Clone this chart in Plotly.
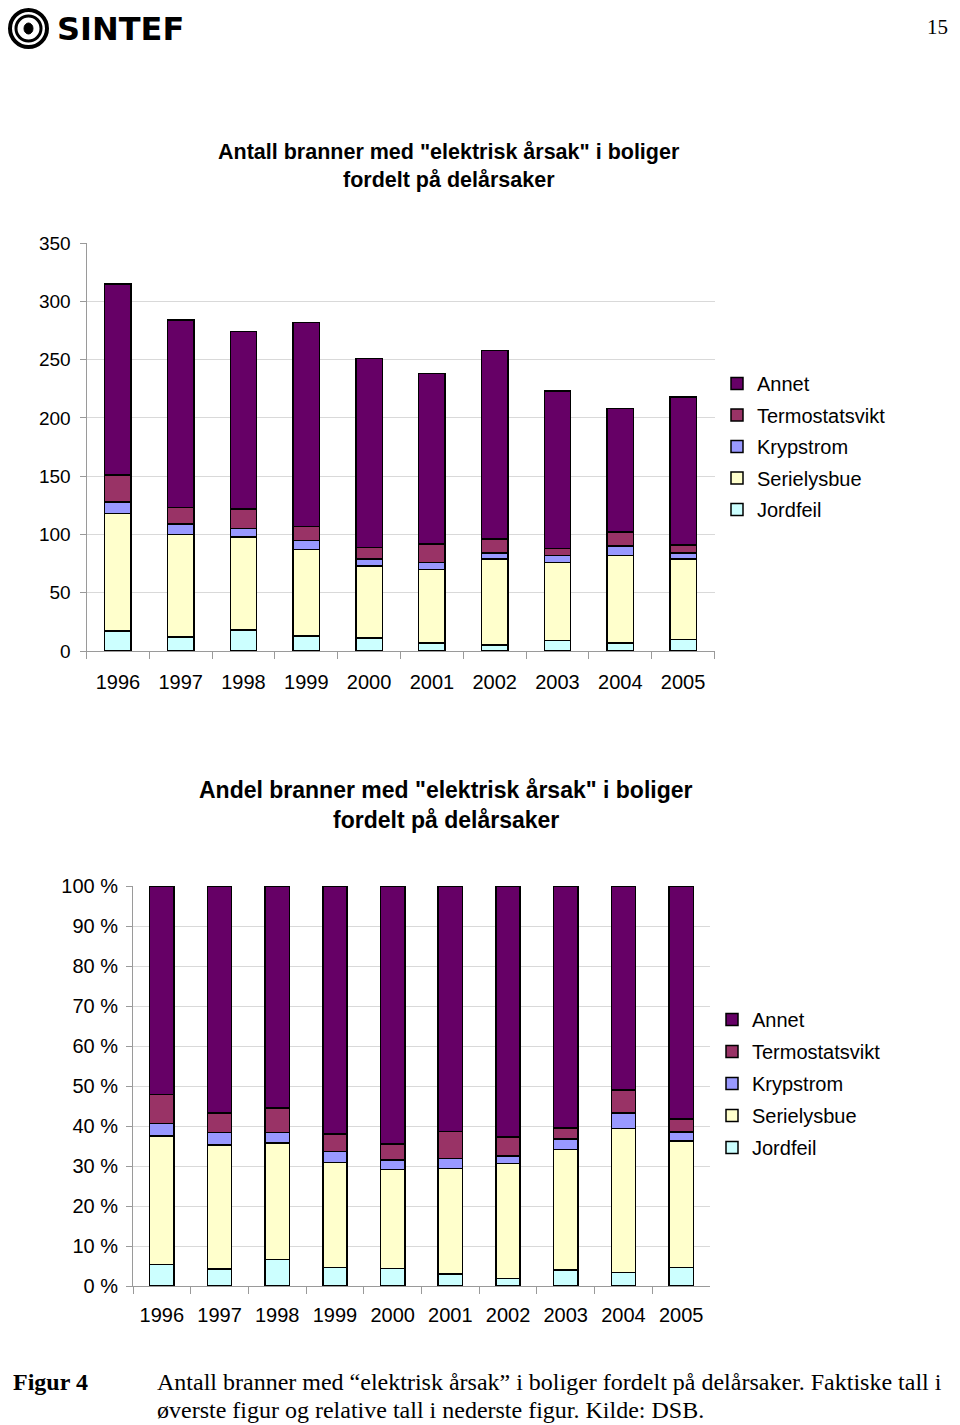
import plotly.graph_objects as go

years = ['1996', '1997', '1998', '1999', '2000', '2001', '2002', '2003', '2004', '2005']
jordfeil = [17, 12, 18, 13, 11, 7, 5, 9, 7, 10]
serielysbue = [101, 88, 80, 74, 62, 63, 74, 67, 75, 69]
krypstrom = [10, 9, 7, 8, 6, 6, 5, 6, 8, 5]
termostatsvikt = [23, 14, 17, 12, 10, 16, 12, 6, 12, 7]
annet = [164, 161, 152, 175, 162, 146, 162, 135, 106, 127]

series_names = ['Jordfeil', 'Serielysbue', 'Krypstrom', 'Termostatsvikt', 'Annet']
series_values = [jordfeil, serielysbue, krypstrom, termostatsvikt, annet]
colors = ['#CCFFFF', '#FFFFCC', '#9999FF', '#993366', '#660066']

pct_ticks = [0, 10, 20, 30, 40, 50, 60, 70, 80, 90, 100]
abs_ticks = [0, 50, 100, 150, 200, 250, 300, 350]

totals = [sum(v) for v in zip(*series_values)]

W, H = 960, 1425
OFF = 8  # page body margin
def px(x):
    return (x - OFF) / W
def py(y):
    return 1 - (y - OFF) / H

FONT = 'Liberation Sans, Arial, sans-serif'
SERIF = 'Liberation Serif, Times New Roman, serif'

n = len(series_names)
fig = go.Figure()
for i, (name, vals, col) in enumerate(zip(series_names, series_values, colors)):
    fig.add_trace(go.Bar(x=years, y=vals, name=name,
                         marker=dict(color=col, line=dict(color='black', width=1.5)),
                         xaxis='x', yaxis='y', legend='legend', legendgroup='a_' + name,
                         legendrank=n - i))
for i, (name, vals, col) in enumerate(zip(series_names, series_values, colors)):
    pct = [100 * v / t for v, t in zip(vals, totals)]
    fig.add_trace(go.Bar(x=years, y=pct, name=name,
                         marker=dict(color=col, line=dict(color='black', width=1.5)),
                         xaxis='x2', yaxis='y2', legend='legend2', legendgroup='b_' + name,
                         legendrank=n - i))

def axis_common(size):
    return dict(showline=True, linecolor='#9a9a9a', linewidth=1, tickcolor='#9a9a9a',
                tickfont=dict(family=FONT, size=size, color='black'))

fig.update_layout(
    width=W, height=H,
    margin=dict(l=0, r=0, t=0, b=0, autoexpand=False),
    paper_bgcolor='white', plot_bgcolor='white',
    barmode='stack', bargap=0.58,
    font=dict(family=FONT, color='black'),
    xaxis=dict(domain=[px(86.5), px(714.5)], anchor='y', type='category', tickson='boundaries',
               ticks='outside', ticklen=7, showgrid=False, ticklabelstandoff=13, **axis_common(20)),
    yaxis=dict(domain=[py(651), py(243)], anchor='x', range=[0, 350], tickvals=abs_ticks,
               ticks='outside', ticklen=6, showgrid=True, gridcolor='#d9d9d9', gridwidth=1,
               zeroline=False, ticklabelstandoff=5, **axis_common(19)),
    xaxis2=dict(domain=[px(133), px(710)], anchor='y2', type='category', tickson='boundaries',
                ticks='outside', ticklen=7, showgrid=False, ticklabelstandoff=11, **axis_common(20)),
    yaxis2=dict(domain=[py(1286), py(886)], anchor='x2', range=[0, 100], tickvals=pct_ticks,
                ticktext=[f'{t} %' for t in pct_ticks],
                ticks='outside', ticklen=6, showgrid=True, gridcolor='#d9d9d9', gridwidth=1,
                zeroline=False, ticklabelstandoff=4, **axis_common(20)),
    legend=dict(x=px(717), y=py(364), xanchor='left', yanchor='top', traceorder='grouped',
                tracegroupgap=2.5, font=dict(family=FONT, size=20, color='black'),
                bgcolor='rgba(0,0,0,0)'),
    legend2=dict(x=px(712), y=py(1000), xanchor='left', yanchor='top', traceorder='grouped',
                 tracegroupgap=3, font=dict(family=FONT, size=20, color='black'),
                 bgcolor='rgba(0,0,0,0)'),
)

annotations = [
    dict(x=px(449), y=py(152), text='<b>Antall branner med "elektrisk årsak" i boliger</b>',
         font=dict(family=FONT, size=21.5)),
    dict(x=px(449), y=py(180), text='<b>fordelt på delårsaker</b>', font=dict(family=FONT, size=21.5)),
    dict(x=px(446), y=py(790), text='<b>Andel branner med "elektrisk årsak" i boliger</b>',
         font=dict(family=FONT, size=23)),
    dict(x=px(446), y=py(820), text='<b>fordelt på delårsaker</b>', font=dict(family=FONT, size=23)),
    dict(x=px(11), y=py(1382), xanchor='left', text='<b>Figur 4</b>', font=dict(family=SERIF, size=24)),
    dict(x=px(155), y=py(1382), xanchor='left',
         text='Antall branner med “elektrisk årsak” i boliger fordelt på delårsaker. Faktiske tall i',
         font=dict(family=SERIF, size=24)),
    dict(x=px(155), y=py(1410), xanchor='left',
         text='øverste figur og relative tall i nederste figur. Kilde: DSB.',
         font=dict(family=SERIF, size=24)),
    dict(x=px(950), y=py(27), xanchor='right', text='15', font=dict(family=SERIF, size=21)),
    dict(x=px(55), y=py(29), xanchor='left', text='<b>SINTEF</b>',
         font=dict(family='DejaVu Sans, sans-serif', size=32, color='black')),
]
for a in annotations:
    a.setdefault('xanchor', 'center')
    a.update(xref='paper', yref='paper', yanchor='middle', showarrow=False)
fig.update_layout(annotations=annotations)

shapes = [
    dict(type='circle', xref='paper', yref='paper', x0=px(10), x1=px(47), y0=py(47), y1=py(10),
         line=dict(color='black', width=4)),
    dict(type='circle', xref='paper', yref='paper', x0=px(16), x1=px(41), y0=py(41), y1=py(16),
         line=dict(color='black', width=3)),
    dict(type='circle', xref='paper', yref='paper', x0=px(24), x1=px(33), y0=py(34), y1=py(23),
         fillcolor='black', line=dict(color='black', width=1)),
]
fig.update_layout(shapes=shapes)

fig.write_html('out.html')
